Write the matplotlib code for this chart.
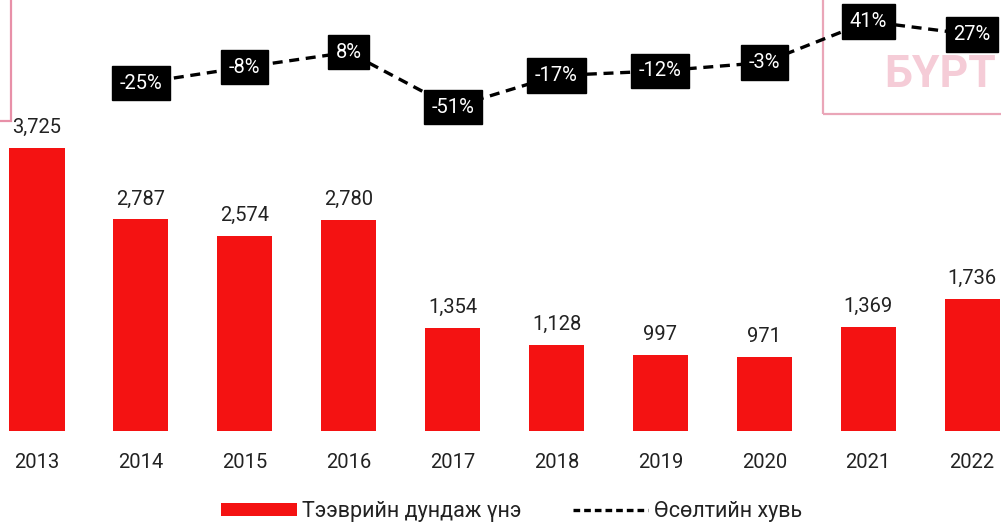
import numpy as np
import matplotlib.pyplot as plt
from matplotlib.patches import Patch, Rectangle
from matplotlib.lines import Line2D

plt.rcParams['font.family'] = ['Roboto', 'DejaVu Sans']

# data
years = ['2013', '2014', '2015', '2016', '2017', '2018', '2019', '2020', '2021', '2022']
avg_price = [3725, 2787, 2574, 2780, 1354, 1128, 997, 971, 1369, 1736]
growth_years = years[1:]
growth_pct = [-25, -8, 8, -51, -17, -12, -3, 41, 27]

bar_label = 'Тээврийн дундаж үнэ'
line_label = 'Өсөлтийн хувь'

fig = plt.figure(figsize=(10.01, 5.26), dpi=100)

# faint stamp marks from the scan (drawn first, behind everything)
fig.add_artist(Rectangle((823 / 1001, 412 / 526), 0.2, 0.25, transform=fig.transFigure,
                         fill=False, ec='#eaa6b8', lw=1.6, zorder=0))
fig.add_artist(Rectangle((-0.05, 405 / 526), 0.061, 0.3, transform=fig.transFigure,
                         fill=False, ec='#e890a8', lw=1.6, zorder=0))
fig.text(996 / 1001, 451 / 526, 'БҮРТ', fontsize=32, fontweight='bold',
         color='#f5ccd7', ha='right', va='center', zorder=0)

ax = fig.add_axes([0, 95 / 526, 1, 431 / 526])
ax.patch.set_alpha(0)

x = np.arange(len(years))
ax.bar(x, avg_price, width=0.53, color='#f41212', zorder=2)
for xi, v in zip(x, avg_price):
    ax.text(xi, v + 270, f'{v:,}', ha='center', va='center', fontsize=14.5, color='#222222')

ax.set_xlim(-0.356, 9.278)
ax.set_ylim(0, 5679)
ax.set_xticks(x)
ax.set_xticklabels(years, fontsize=14.5, color='#222222')
ax.tick_params(axis='x', length=0, pad=16)
ax.set_yticks([])
for s in ax.spines.values():
    s.set_visible(False)

# growth line on a second scale
ax2 = ax.twinx()
ax2.patch.set_alpha(0)
gx = np.arange(1, len(years))
ax2.plot(gx, growth_pct, color='black', lw=2.4, linestyle=(0, (3, 2)), zorder=3)
for xi, p in zip(gx, growth_pct):
    ax2.text(xi, p, f'{p}%', ha='center', va='center', fontsize=14.5, color='white',
             bbox=dict(boxstyle='square,pad=0.38', fc='black', ec='black'), zorder=4)
ax2.set_ylim(-398, 64)
ax2.set_yticks([])
for s in ax2.spines.values():
    s.set_visible(False)

handles = [Patch(facecolor='#f41212', label=bar_label),
           Line2D([0], [0], color='black', lw=2.4, linestyle=(0, (2, 1.2)), label=line_label)]
fig.legend(handles=handles, loc='center', bbox_to_anchor=(0.511, 0.027), ncol=2,
           frameon=False, fontsize=15.5, handlelength=3.5, handleheight=0.55,
           columnspacing=2.4, handletextpad=0.25, labelcolor='#222222')

fig.savefig('out.png', dpi=100)
